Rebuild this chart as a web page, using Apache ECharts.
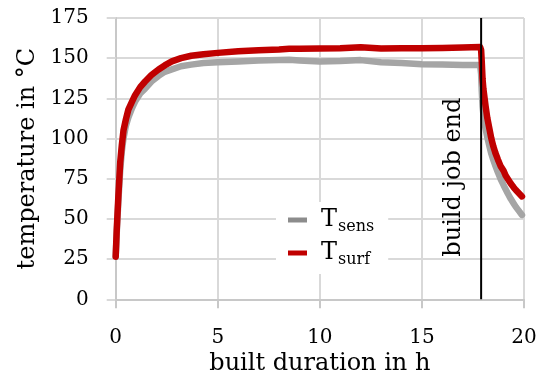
<!DOCTYPE html>
<html>
<head>
<meta charset="utf-8">
<script src="https://cdn.jsdelivr.net/npm/echarts@6/dist/echarts.min.js"></script>
<style>html,body{margin:0;padding:0;background:#fff}#c{width:550px;height:382px}</style>
</head>
<body>
<div id="c"></div>
<script>
const timeH = [0, 0.05, 0.13, 0.22, 0.3, 0.38, 0.5, 0.62, 0.8, 0.95, 1.2, 1.44, 1.75, 2.1, 2.4, 2.75, 3.2, 3.7, 4.3, 5, 6, 7, 8, 8.5, 9, 10, 11, 12, 13, 14, 15, 16, 17, 17.85, 17.9, 17.93, 17.97, 18.01, 18.05, 18.12, 18.2, 18.3, 18.4, 18.5, 18.6, 18.72, 18.85, 19.0, 19.1, 19.2, 19.35, 19.5, 19.6, 19.75, 19.9];
const tSens = [26.5, 41, 61, 80, 92, 100, 108, 113, 119, 123, 128, 131, 135.5, 139, 141.5, 143, 145, 146, 147, 147.5, 148, 148.5, 148.8, 149, 148.6, 148, 148.2, 148.8, 147.5, 147, 146.3, 146, 145.8, 145.7, 140, 130, 120, 115, 111, 106, 101, 95.5, 90.5, 86.5, 83, 79, 75, 71, 68.5, 66, 62.5, 59.5, 57.5, 55, 52.5];
const tSurf = [26.5, 43, 64, 85, 96, 105, 112, 118, 123, 127, 132, 135.5, 139.5, 143, 145.5, 148, 150, 151.5, 152.5, 153.3, 154.3, 155, 155.4, 155.8, 155.8, 156, 156.2, 156.8, 156, 156.2, 156.2, 156.4, 156.6, 156.9, 155, 148, 137, 131, 127, 120, 113, 106.5, 100, 95, 91, 87, 83, 80, 77, 75, 72, 69.5, 68, 66, 64];
const xTicks = {min: 0, max: 20, interval: 5};
const yTicks = {min: 0, max: 175, interval: 25};
const buildEndH = 17.9;
const labelY = 76;
const seriesNames = ['Tsens', 'Tsurf'];

const FONT = 'DejaVu Serif';
const grid = {color: '#d9d9d9', width: 2};
const chart = echarts.init(document.getElementById('c'), null, {renderer: 'canvas'});
chart.setOption({
  animation: false,
  backgroundColor: '#fff',
  grid: {left: 115.7, right: 26, top: 18, bottom: 82.7},
  xAxis: {
    type: 'value', min: xTicks.min, max: xTicks.max, interval: xTicks.interval,
    name: 'built duration in h', nameLocation: 'middle', nameGap: 52,
    nameTextStyle: {fontFamily: FONT, fontSize: 24, color: '#000'},
    axisLine: {show: true, lineStyle: {color: '#c8c8c8', width: 2}},
    axisTick: {show: true, length: 9, lineStyle: {color: '#c8c8c8', width: 2}},
    axisLabel: {fontFamily: FONT, fontSize: 20, color: '#000', margin: 8, padding: [20, 0, 0, 0]},
    splitLine: {show: true, lineStyle: grid}
  },
  yAxis: {
    type: 'value', min: yTicks.min, max: yTicks.max, interval: yTicks.interval,
    name: 'temperature in °C', nameLocation: 'middle', nameGap: 76,
    nameTextStyle: {fontFamily: FONT, fontSize: 24, color: '#000'},
    axisLine: {show: true, lineStyle: {color: '#c8c8c8', width: 2}},
    axisTick: {show: true, length: 9, lineStyle: {color: '#d9d9d9', width: 2}},
    axisLabel: {fontFamily: FONT, fontSize: 20, color: '#000', margin: 8, padding: [0, 19, 0, 0]},
    splitLine: {show: true, lineStyle: grid}
  },
  legend: {
    data: [{name: seriesNames[0], itemStyle: {color: '#8c8c8c'}}, {name: seriesNames[1], itemStyle: {color: '#c00000'}}],
    orient: 'vertical', left: 276, top: 202, itemGap: 6, itemWidth: 19, itemHeight: 5, icon: 'rect',
    backgroundColor: '#fff', padding: [6, 14, 6, 12],
    formatter: n => '{t|T}{s|' + n.slice(1) + '}',
    textStyle: {
      fontFamily: FONT, color: '#000',
      rich: {
        t: {fontFamily: FONT, fontSize: 24, color: '#000', lineHeight: 30, padding: [0, 0, 0, 9]},
        s: {fontFamily: FONT, fontSize: 16, color: '#000', lineHeight: 10, verticalAlign: 'bottom', padding: [0, 0, 0, 1]}
      }
    }
  },
  series: [
    {
      name: seriesNames[0], type: 'line', symbol: 'none', silent: true,
      data: timeH.map((t, i) => [t, tSens[i]]),
      lineStyle: {color: '#a5a5a5', width: 6.5, cap: 'round', join: 'round'},
      itemStyle: {color: '#a5a5a5'}, z: 2
    },
    {
      name: seriesNames[1], type: 'line', symbol: 'none', silent: true,
      data: timeH.map((t, i) => [t, tSurf[i]]),
      lineStyle: {color: '#c00000', width: 6.5, cap: 'round', join: 'round'},
      itemStyle: {color: '#c00000'}, z: 3
    },
    {
      name: 'end', type: 'line', symbol: 'none', silent: true,
      data: [[buildEndH, yTicks.min], [buildEndH, yTicks.max]],
      lineStyle: {color: '#000', width: 2}, z: 4,
      markPoint: {
        symbol: 'circle', symbolSize: 1, itemStyle: {color: 'rgba(0,0,0,0)'},
        data: [{coord: [buildEndH, labelY]}],
        label: {show: true, position: 'inside', formatter: 'build job end', rotate: 90,
          offset: [0, -27], fontFamily: FONT, fontSize: 24, color: '#000'}
      }
    }
  ]
});
</script>
</body>
</html>
